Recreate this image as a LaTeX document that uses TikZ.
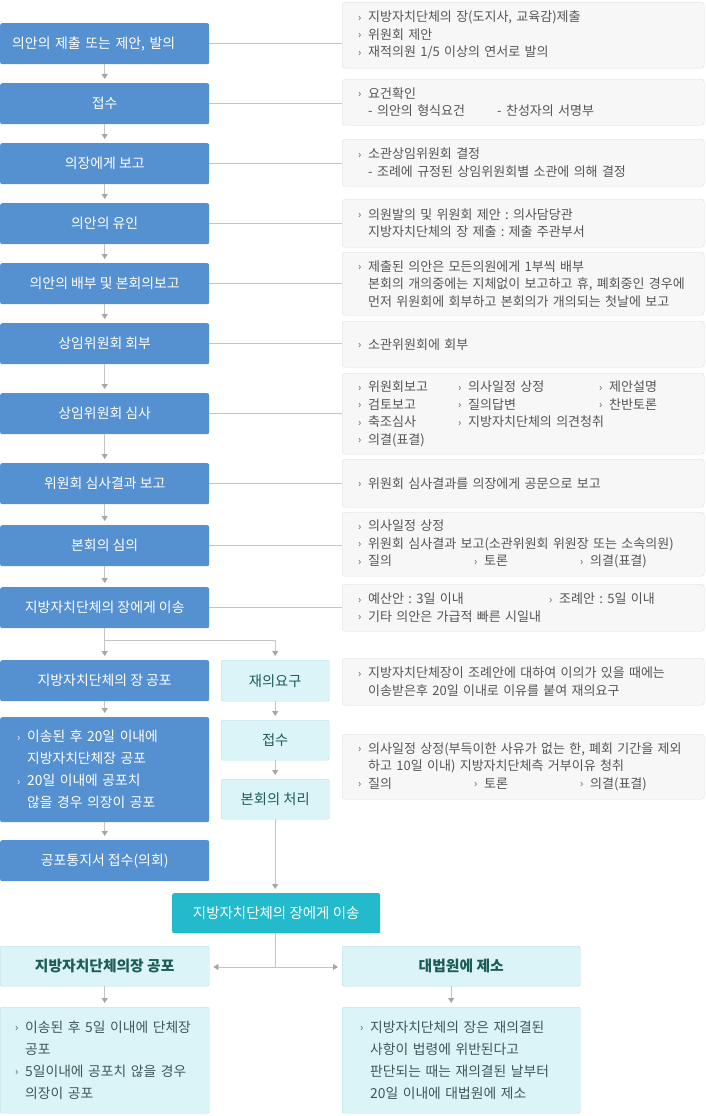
\documentclass[tikz,border=0pt]{standalone}
\usepackage{fontspec}
\setmainfont{Noto Sans CJK KR}
\usetikzlibrary{arrows.meta,positioning}
\frenchspacing
\definecolor{stageblue}{HTML}{5590D0}
\definecolor{relayteal}{HTML}{23BBCC}
\definecolor{palefill}{HTML}{DBF4F7}
\definecolor{paleedge}{HTML}{BADDE2}
\definecolor{notefill}{HTML}{F7F7F7}
\definecolor{noteedge}{HTML}{DDDDDD}
\definecolor{notetext}{HTML}{555555}
\definecolor{linegray}{HTML}{C4C4C4}
\definecolor{tipgray}{HTML}{A6A6A6}
\definecolor{darkteal}{HTML}{1E5C58}
\newcommand{\fs}[2]{\fontsize{#1}{#2}\selectfont}
\newcommand{\bul}{\makebox[10pt][l]{\raisebox{0.5pt}{\fs{10.5}{10}›}}}
\newcommand{\ind}{\hspace*{10pt}}
\newcommand{\col}[2]{\makebox[#1][l]{\bul #2}}
\tikzset{
  stage/.style={rectangle,rounded corners=2pt,fill=stageblue,text=white,anchor=north west,
    minimum width=209pt,minimum height=41pt,inner sep=0pt,font=\fs{13.9}{22}},
  stagelist/.style={stage,align=left,text width=175pt,inner xsep=17pt},
  note/.style={rectangle,rounded corners=3pt,draw=noteedge,fill=notefill,text=notetext,
    anchor=north west,align=left,text width=330pt,inner xsep=16pt,inner ysep=0pt,font=\fs{13}{17.5}},
  redo/.style={rectangle,rounded corners=2pt,draw=paleedge,fill=palefill,text=darkteal,anchor=north west,
    minimum width=108pt,minimum height=41pt,inner sep=0pt,font=\fs{14.3}{22}},
  relay/.style={rectangle,rounded corners=2pt,fill=relayteal,text=white,anchor=north west,
    minimum width=208pt,minimum height=40pt,inner sep=0pt,font=\fs{14.5}{22}},
  outcome/.style={redo,font=\fs{14.8}{20}\bfseries},
  outlist/.style={redo,text=notetext!60!darkteal,align=left,inner ysep=0pt,font=\fs{13.8}{22}},
  link/.style={draw=linegray,line width=0.8pt},
  arr/.style={link,-{Triangle[width=6pt,length=5pt,color=tipgray]},shorten >=4pt}
}
\begin{document}
\begin{tikzpicture}[x=1pt,y=-1pt]
\useasboundingbox (0,0) rectangle (705,1116);
% left column
\node (s1) [stage,align=left,text width=185pt,inner xsep=12pt] at (0,23) {의안의 제출 또는 제안, 발의};
\node (s2) [stage] at (0,83) {접수};
\node (s3) [stage] at (0,143) {의장에게 보고};
\node (s4) [stage] at (0,203) {의안의 유인};
\node (s5) [stage] at (0,263) {의안의 배부 및 본회의보고};
\node (s6) [stage] at (0,323) {상임위원회 회부};
\node (s7) [stage] at (0,393) {상임위원회 심사};
\node (s8) [stage] at (0,463) {위원회 심사결과 보고};
\node (s9) [stage] at (0,525) {본회의 심의};
\node (s10) [stage] at (0,587) {지방자치단체의 장에게 이송};
\node (s11) [stage] at (0,660) {지방자치단체의 장 공포};
\node (s12) [stagelist,minimum height=105pt,font=\fs{13.8}{22}] at (0,717) {\bul 이송된 후 20일 이내에\\ \ind 지방자치단체장 공포\\ \bul 20일 이내에 공포치\\ \ind 않을 경우 의장이 공포};
\node (s13) [stage] at (0,840) {공포통지서 접수(의회)};
%
% notes
\node (n1) [note,minimum height=66pt] at (342,2) {\bul 지방자치단체의 장(도지사, 교육감)제출\\ \bul 위원회 제안\\ \bul 재적의원 1/5 이상의 연서로 발의};
\node (n2) [note,minimum height=46pt] at (342,79) {\bul 요건확인\\ \ind\makebox[129pt][l]{- 의안의 형식요건}- 찬성자의 서명부};
\node (n3) [note,minimum height=47pt] at (342,139) {\bul 소관상임위원회 결정\\ \ind - 조례에 규정된 상임위원회별 소관에 의해 결정};
\node (n4) [note,minimum height=48pt] at (342,199) {\bul 의원발의 및 위원회 제안 : 의사담당관\\ \ind 지방자치단체의 장 제출 : 제출 주관부서};
\node (n5) [note,minimum height=63pt] at (342,252) {\bul 제출된 의안은 모든의원에게 1부씩 배부\\ \ind 본회의 개의중에는 지체없이 보고하고 휴, 폐회중인 경우에\\ \ind 먼저 위원회에 회부하고 본회의가 개의되는 첫날에 보고};
\node (n6) [note,minimum height=46pt] at (342,321) {\bul 소관위원회에 회부};
\node (n7) [note,minimum height=81pt] at (342,373) {\col{100pt}{위원회보고}\col{141pt}{의사일정 상정}\bul 제안설명\\ \col{100pt}{검토보고}\col{141pt}{질의답변}\bul 찬반토론\\ \col{100pt}{축조심사}\bul 지방자치단체의 의견청취\\ \bul 의결(표결)};
\node (n8) [note,minimum height=48pt] at (342,459) {\bul 위원회 심사결과를 의장에게 공문으로 보고};
\node (n9) [note,minimum height=64pt] at (342,512) {\bul 의사일정 상정\\ \bul 위원회 심사결과 보고(소관위원회 위원장 또는 소속의원)\\ \col{116pt}{질의}\col{106pt}{토론}\bul 의결(표결)};
\node (n10) [note,minimum height=47pt] at (342,584) {\col{191pt}{예산안 : 3일 이내}\bul 조례안 : 5일 이내\\ \bul 기타 의안은 가급적 빠른 시일내};
\node (n11) [note,minimum height=47pt] at (342,658) {\bul 지방자치단체장이 조례안에 대하여 이의가 있을 때에는\\ \ind 이송받은후 20일 이내로 이유를 붙여 재의요구};
\node (n12) [note,minimum height=65pt] at (342,734) {\bul 의사일정 상정(부득이한 사유가 없는 한, 폐회 기간을 제외\\ \ind 하고 10일 이내) 지방자치단체측 거부이유 청취\\ \col{116pt}{질의}\col{106pt}{토론}\bul 의결(표결)};
%
% reconsideration column
\node (r1) [redo] at (221,660) {재의요구};
\node (r2) [redo,minimum height=40pt] at (221,720) {접수};
\node (r3) [redo,minimum height=40pt] at (221,779) {본회의 처리};
\node (relay) [relay] at (172,893) {지방자치단체의 장에게 이송};
\node (out1) [outcome,minimum width=209pt,minimum height=40pt] at (0,946) {지방자치단체의장 공포};
\node (out2) [outcome,minimum width=238pt,minimum height=40pt] at (342,946) {대법원에 제소};
\node (list1) [outlist,text width=179pt,inner xsep=15pt,minimum height=106pt] at (0,1007) {\bul 이송된 후 5일 이내에 단체장\\ \ind 공포\\ \bul 5일이내에 공포치 않을 경우\\ \ind 의장이 공포};
\node (list2) [outlist,text width=202pt,inner xsep=18pt,minimum height=106pt] at (342,1007) {\bul 지방자치단체의 장은 재의결된\\ \ind 사항이 법령에 위반된다고\\ \ind 판단되는 때는 재의결된 날부터\\ \ind 20일 이내에 대법원에 제소};
\coordinate (fork) at (104.5,640);
\coordinate (split) at (275,967);
%
\path[link] (s1.east) edge (s1.east -| n1.west);
\path[link] (s2.east) edge (s2.east -| n2.west);
\path[link] (s3.east) edge (s3.east -| n3.west);
\path[link] (s4.east) edge (s4.east -| n4.west);
\path[link] (s5.east) edge (s5.east -| n5.west);
\path[link] (s6.east) edge (s6.east -| n6.west);
\path[link] (s7.east) edge (s7.east -| n7.west);
\path[link] (s8.east) edge (s8.east -| n8.west);
\path[link] (s9.east) edge (s9.east -| n9.west);
\path[link] (s10.east) edge (s10.east -| n10.west);
%
\path[arr] (s1) edge (s2);
\path[arr] (s2) edge (s3);
\path[arr] (s3) edge (s4);
\path[arr] (s4) edge (s5);
\path[arr] (s5) edge (s6);
\path[arr] (s6) edge (s7);
\path[arr] (s7) edge (s8);
\path[arr] (s8) edge (s9);
\path[arr] (s9) edge (s10);
\path[arr] (s10) edge (s11);
\path[arr] (s11) edge (s12);
\path[arr] (s12) edge (s13);
\draw[arr] (fork) -| (r1.north);
\path[arr] (r1) edge (r2);
\path[arr] (r2) edge (r3);
\draw[arr] (r3.south) -- (r3.south |- relay.north);
\draw[link] (relay.south -| split) -- (split);
\draw[arr] (split) -- (split -| out1.east);
\draw[arr] (split) -- (split -| out2.west);
\path[arr] (out1) edge (list1);
\draw[arr] ([xshift=-10pt]out2.south) -- ([xshift=-10pt]list2.north);
\end{tikzpicture}
\end{document}
